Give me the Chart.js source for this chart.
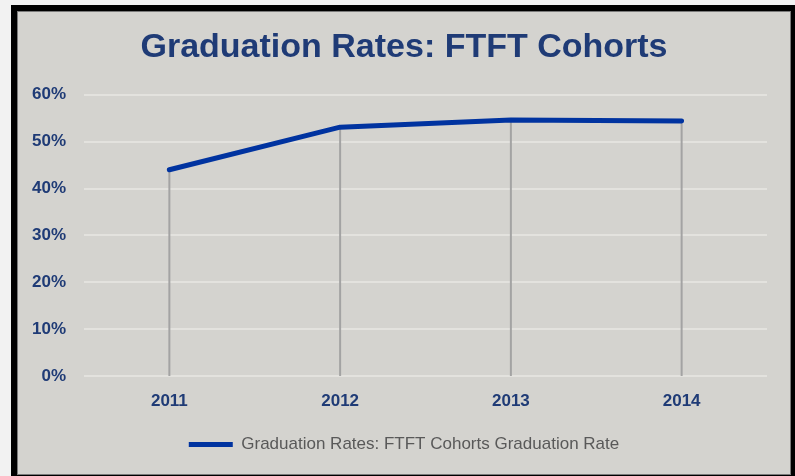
<!DOCTYPE html>
<html>
<head>
<meta charset="utf-8">
<script src="https://cdn.jsdelivr.net/npm/chart.js@4/dist/chart.umd.min.js"></script>
<style>
  html, body { margin: 0; padding: 0; background: #f2f2f2; overflow: hidden; }
  #outer { position: absolute; left: 11px; top: 5px; width: 784px; height: 476px; background: #000; }
  #inner { position: absolute; left: 6px; top: 6px; width: 772px; height: 462px; background: #d4d3cf; border: 1px solid #7a7a7a; }
  #c { position: absolute; left: 0; top: 0; }
</style>
</head>
<body>
<div id="outer"><div id="inner"></div></div>
<canvas id="c" width="795" height="476"></canvas>
<script>
const categories = ['2011', '2012', '2013', '2014'];
const graduationRates = [44.0, 53.1, 54.6, 54.4];
const seriesLabel = 'Graduation Rates: FTFT Cohorts Graduation Rate';
const chartTitle = 'Graduation Rates: FTFT Cohorts';
const yTickValues = [0, 10, 20, 30, 40, 50, 60];

const navy = '#1f3b76';

const dropLines = {
  id: 'dropLines',
  beforeDatasetsDraw(chart) {
    const meta = chart.getDatasetMeta(0);
    const yScale = chart.scales.y;
    const ctx = chart.ctx;
    ctx.save();
    ctx.strokeStyle = '#a3a3a3';
    ctx.lineWidth = 2;
    meta.data.forEach(pt => {
      ctx.beginPath();
      ctx.moveTo(pt.x, pt.y);
      ctx.lineTo(pt.x, yScale.bottom);
      ctx.stroke();
    });
    ctx.restore();
  }
};

new Chart(document.getElementById('c'), {
  type: 'line',
  data: {
    labels: categories,
    datasets: [{
      label: seriesLabel,
      data: graduationRates,
      borderColor: '#0033a0',
      backgroundColor: '#0033a0',
      borderWidth: 5,
      borderCapStyle: 'round',
      borderJoinStyle: 'round',
      pointRadius: 0,
      pointStyle: 'line',
      tension: 0,
      fill: false,
      yAxisID: 'y'
    }]
  },
  options: {
    responsive: false,
    animation: false,
    layout: { padding: { left: 30, right: 17, top: 0, bottom: 13 } },
    plugins: {
      title: {
        display: true,
        text: chartTitle,
        color: navy,
        font: { family: '"Liberation Sans", Arial, sans-serif', size: 34, weight: 'bold' },
        padding: { top: 27, bottom: 27 }
      },
      legend: {
        display: true,
        position: 'bottom',
        labels: {
          usePointStyle: true,
          pointStyleWidth: 44,
          color: '#595959',
          font: { family: '"Liberation Sans", Arial, sans-serif', size: 17 },
          padding: 10
        }
      },
      tooltip: { enabled: false }
    },
    scales: {
      x: {
        offset: true,
        grid: { display: false, drawTicks: false },
        border: { display: false },
        ticks: {
          color: navy,
          padding: 15,
          font: { family: '"Liberation Sans", Arial, sans-serif', size: 17, weight: 'bold' }
        },
        afterFit(scale) { scale.height = 50; }
      },
      y: {
        position: 'left',
        min: 0,
        max: 60,
        afterBuildTicks(scale) { scale.ticks = yTickValues.map(v => ({ value: v })); },
        grid: { color: '#e3e2de', lineWidth: 2, drawTicks: false },
        border: { display: false },
        ticks: {
          color: navy,
          padding: 18,
          font: { family: '"Liberation Sans", Arial, sans-serif', size: 17, weight: 'bold' },
          callback: v => v + '%'
        },
        afterFit(scale) { scale.width = 54; }
      },
      yRightSpacer: {
        position: 'right',
        display: true,
        min: 0,
        max: 60,
        grid: { display: false, drawTicks: false },
        border: { display: false },
        ticks: { display: false },
        afterFit(scale) { scale.width = 11; }
      }
    }
  },
  plugins: [dropLines]
});
</script>
</body>
</html>
